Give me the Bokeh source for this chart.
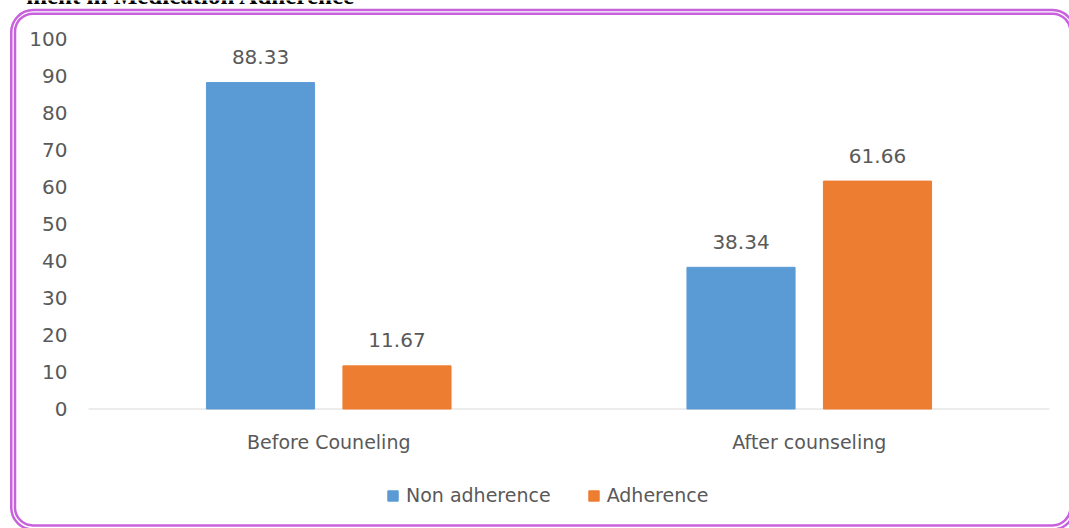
import numpy as np
from bokeh.plotting import figure
from bokeh.models import (ColumnDataSource, Range1d, LabelSet, Label, Legend,
                          LegendItem, BoxAnnotation)
from bokeh.core.properties import value
from bokeh.embed import file_html
from bokeh.resources import INLINE

title_text = "ment in Medication Adherence"
categories = ["Before Couneling", "After counseling"]
non_adherence = [88.33, 38.34]
adherence = [11.67, 61.66]
series_names = ["Non adherence", "Adherence"]
y_ticks = [0, 10, 20, 30, 40, 50, 60, 70, 80, 90, 100]

BLUE = "#5B9BD5"
ORANGE = "#ED7D31"
GRAY = "#595959"
PURPLE = "#C862DC"
AXIS_GRAY = "#D9D9D9"
FONT = "DejaVu Sans"

W, H = 1069, 528
# frame covers the whole canvas; ranges chosen so the plot area sits where
# the reference draws it (0..2 category span, 0..100 value span)
x_range = Range1d(-0.18314, 2.04162)
y_range = Range1d(-32.33, 110.525)

centers = np.arange(len(categories)) + 0.5
off = 0.142
bar_w = 0.225

src = ColumnDataSource(dict(
    cat=categories,
    xc=centers,
    xn=centers - off,
    xa=centers + off,
    zero=[0] * len(categories),
    non=non_adherence,
    adh=adherence,
    non_lbl=[f"{v:.2f}" for v in non_adherence],
    adh_lbl=[f"{v:.2f}" for v in adherence],
))
tick_src = ColumnDataSource(dict(y=y_ticks, x=[0] * len(y_ticks),
                                 lbl=[str(t) for t in y_ticks]))

p = figure(width=W, height=H, output_backend="svg", toolbar_location=None,
           x_range=x_range, y_range=y_range, title_location=None,
           x_axis_location=None, y_axis_location=None,
           min_border=0, min_border_left=0, min_border_right=0,
           min_border_top=0, min_border_bottom=0)
p.outline_line_color = None
p.background_fill_color = "white"
p.border_fill_color = "white"
p.grid.visible = False

# category baseline
p.segment(x0=[0], y0=[0], x1=[len(categories)], y1=[0],
          line_color=AXIS_GRAY, line_width=1.2)

r1 = p.vbar(x="xn", top="non", width=bar_w, source=src, color=BLUE)
r2 = p.vbar(x="xa", top="adh", width=bar_w, source=src, color=ORANGE)

# value labels
for xcol, col, lbl in [("xn", "non", "non_lbl"), ("xa", "adh", "adh_lbl")]:
    p.add_layout(LabelSet(x=xcol, y=col, text=lbl, source=src,
                          text_align="center", text_baseline="alphabetic",
                          y_offset=18.5, text_font=value(FONT),
                          text_font_size="20px", text_color=GRAY))

# value-axis tick labels
p.add_layout(LabelSet(x="x", y="y", text="lbl", source=tick_src,
                      text_align="right", text_baseline="middle",
                      x_offset=-21, text_font=value(FONT),
                      text_font_size="20px", text_color=GRAY))

# category labels
p.add_layout(LabelSet(x="xc", y="zero", text="cat", source=src,
                      text_align="center", text_baseline="alphabetic",
                      y_offset=-39.5, text_font=value(FONT),
                      text_font_size="19px", text_color=GRAY))

legend = Legend(items=[LegendItem(label=series_names[0], renderers=[r1]),
                       LegendItem(label=series_names[1], renderers=[r2])],
                orientation="horizontal", location=(386, 22),
                padding=0, margin=0, spacing=36, label_standoff=7,
                glyph_width=13, glyph_height=13, label_height=20,
                border_line_color=None, background_fill_alpha=0,
                label_text_font=FONT, label_text_font_size="19px",
                label_text_color=GRAY)
p.add_layout(legend, "center")

# cut-off heading of the source document
p.add_layout(Label(x=0.5557, y=111.9, text=title_text, text_align="right",
                   text_baseline="alphabetic", text_font="Liberation Serif",
                   text_font_style="bold", text_font_size="25px",
                   text_color="black"))

# decorative double rounded border
has_radius = "border_radius" in BoxAnnotation.properties()
for l, t, r, b, rad in [(10.75, 9.6, 1074, 529, 22),
                        (14.5, 13.2, 1070, 525, 18)]:
    kw = dict(border_radius=rad) if has_radius else {}
    p.add_layout(BoxAnnotation(left=l, right=r, top=t, bottom=b,
                               left_units="canvas", right_units="canvas",
                               top_units="canvas", bottom_units="canvas",
                               fill_alpha=0, fill_color=None,
                               line_color=PURPLE, line_width=2.5,
                               line_alpha=1.0, level="overlay", **kw))

open("out.html", "w").write(file_html(p, INLINE))
